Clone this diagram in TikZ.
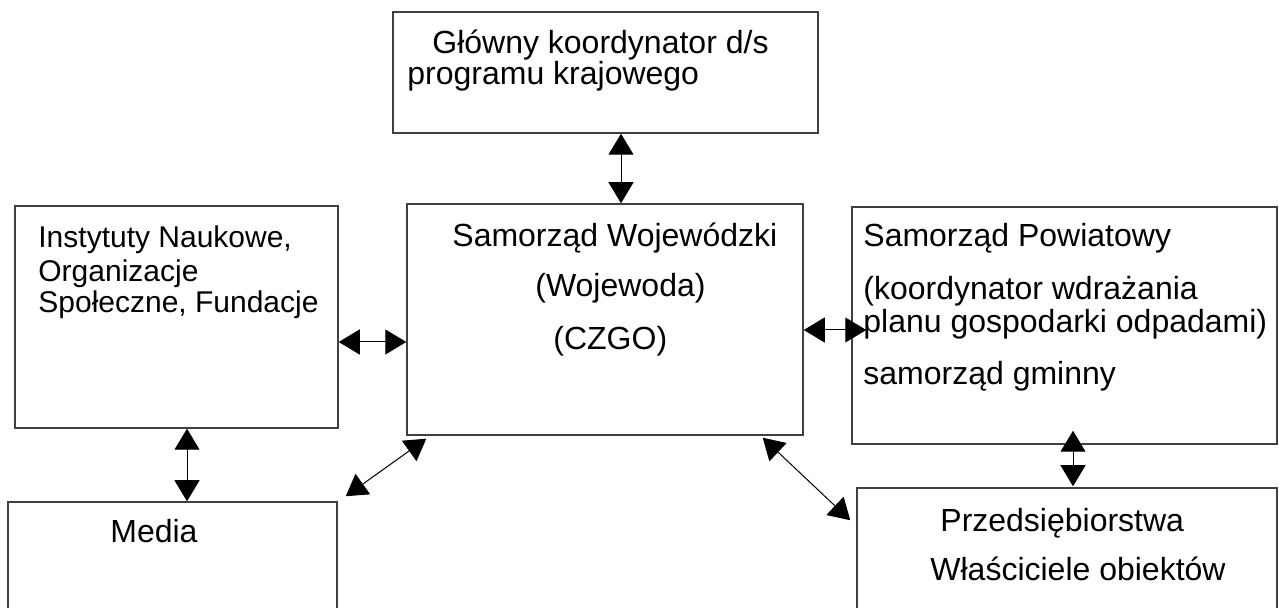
\documentclass[tikz,border=0pt]{standalone}
\usepackage{fontspec}
\setmainfont{Liberation Sans}
\usetikzlibrary{positioning,arrows.meta}

\begin{document}
\begin{tikzpicture}[x=0.5pt,y=-0.5pt,>={Triangle[length=10.5pt,width=12.5pt]}]
	\tikzstyle{box}=[rectangle,draw=black!75,line width=0.75pt,inner sep=0pt]
	\tikzstyle{txt}=[anchor=base west,inner sep=0pt,font=\fontsize{16pt}{19pt}\selectfont]
	\tikzstyle{link}=[<->,line width=0.5pt]
	\useasboundingbox (0,0) rectangle (1279,608);
	\clip (0,0) rectangle (1279,608);
		\node[box, minimum width=212.5pt, minimum height=60.5pt] (gk) at (605.5,72.5) {};
		\node[txt] (gk1) at (432,54) {Główny koordynator d/s};
		\node[txt] (gk2) at (407,85) {programu krajowego};
		\node[box, minimum width=161.5pt, minimum height=111pt] (inst) at (176.5,317) {};
		\node[txt, font=\fontsize{15pt}{18pt}\selectfont] (inst1) at (38,248) {Instytuty Naukowe,};
		\node[txt, font=\fontsize{15pt}{18pt}\selectfont] (inst2) at (38,282) {Organizacje};
		\node[txt, font=\fontsize{15pt}{18pt}\selectfont] (inst3) at (38,313) {Społeczne, Fundacje};
		\node[box, minimum width=198pt, minimum height=115.5pt] (woj) at (605,319.5) {};
		\node[txt] (woj1) at (452,247) {Samorząd Wojewódzki};
		\node[txt] (woj2) at (535,297) {(Wojewoda)};
		\node[txt] (woj3) at (553,350) {(CZGO)};
		\node[box, minimum width=212.5pt, minimum height=118.5pt] (pow) at (1064.5,325.5) {};
		\node[txt] (pow1) at (863,247) {Samorząd Powiatowy};
		\node[txt] (pow2) at (863,300) {(koordynator wdrażania};
		\node[txt] (pow3) at (863,333) {planu gospodarki odpadami)};
		\node[txt] (pow4) at (863,385) {samorząd gminny};
		\node[box, minimum width=164.5pt, minimum height=59pt] (media) at (172.5,561) {};
		\node[txt] (media1) at (110,543) {Media};
		\node[box, minimum width=210pt, minimum height=66pt] (przed) at (1067,554) {};
		\node[txt] (przed1) at (940,531) {Przedsiębiorstwa};
		\node[txt] (przed2) at (930,581) {Właściciele obiektów};
			\draw[link] ([xshift=7.75pt]gk.south) -- ([xshift=8pt]woj.north);
			\draw[link] ([yshift=-12.5pt]inst.east) -- ([yshift=-11.25pt]woj.west);
			\draw[link] ([yshift=-5.25pt]woj.east) -- ([xshift=7.5pt,yshift=-2.25pt]pow.west);
			\draw[link] ([xshift=10pt,yshift=-1.5pt]woj.south west) -- ([xshift=4pt,yshift=2.5pt]media.north east);
			\draw[link] ([xshift=-20.5pt,yshift=-1pt]woj.south east) -- ([xshift=-3pt,yshift=-16.5pt]przed.north west);
			\draw[link] ([xshift=5.25pt]inst.south) -- ([xshift=7.25pt]media.north);
			\draw[link] ([xshift=4.25pt,yshift=7pt]pow.south) -- ([xshift=3pt,yshift=0.5pt]przed.north);
\end{tikzpicture}
\end{document}
